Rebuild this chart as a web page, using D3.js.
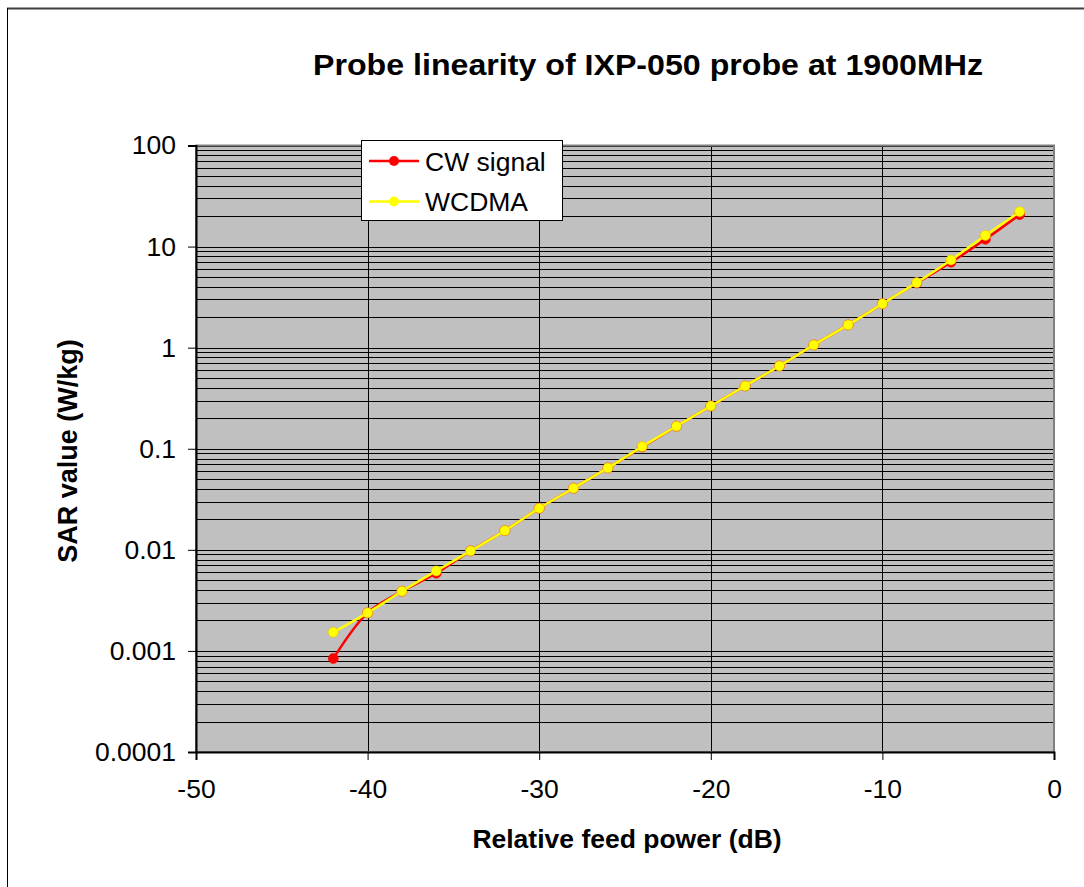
<!DOCTYPE html>
<html><head><meta charset="utf-8">
<script src="https://cdn.jsdelivr.net/npm/d3@7"></script>
<style>body{margin:0;background:#fff}svg{display:block;font-family:"Liberation Sans",Arial,sans-serif}</style>
</head><body>
<svg id="c" width="1084" height="887"></svg>
<script>
const feedPower = [-42,-40,-38,-36,-34,-32,-30,-28,-26,-24,-22,-20,-18,-16,-14,-12,-10,-8,-6,-4,-2];
const cwSignal = [0.00084,0.00238,0.00389,0.00587,0.00975,0.0155,0.0258,0.0407,0.0646,0.104,0.167,0.265,0.418,0.659,1.064,1.68,2.72,4.36,7.0,11.8,20.7];
const wcdma    = [0.00153,0.00238,0.00389,0.00618,0.00975,0.0155,0.0258,0.0407,0.0646,0.105,0.167,0.265,0.418,0.659,1.064,1.68,2.72,4.40,7.37,12.9,22.1];
const xTicks = [-50,-40,-30,-20,-10,0];
const yTicks = [100,10,1,0.1,0.01,0.001,0.0001];
const yTickLabels = ["100","10","1","0.1","0.01","0.001","0.0001"];
const seriesNames = ["CW signal","WCDMA"];
const seriesColors = ["#ff0000","#ffff00"];

const svg = d3.select("#c");
const L=196, R=1054, T=145.5, B=752;
const x = d3.scaleLinear().domain([-50,0]).range([L,R]);
const y = d3.scaleLog().domain([0.0001,100]).range([B,T]);

// outer chart border
svg.append("line").attr("x1",7).attr("x2",1084).attr("y1",8.5).attr("y2",8.5).attr("stroke","#404040").attr("stroke-width",2);
svg.append("line").attr("x1",7.5).attr("x2",7.5).attr("y1",8).attr("y2",887).attr("stroke","#000").attr("stroke-width",1);

// plot background
svg.append("rect").attr("x",L).attr("y",T).attr("width",R-L).attr("height",B-T).attr("fill","#c0c0c0");

// horizontal grid (major + minor)
const hGrid=[];
for(let e=-4;e<2;e++){ for(let m=1;m<10;m++){ const v=m*Math.pow(10,e); if(v>0.0001) hGrid.push(v);} }
hGrid.push(100);
svg.append("g").selectAll("line").data(hGrid).join("line")
  .attr("x1",L).attr("x2",R)
  .attr("y1",d=>Math.round(y(d))+0.5).attr("y2",d=>Math.round(y(d))+0.5)
  .attr("stroke","#000").attr("stroke-width",1);
// vertical grid
svg.append("g").selectAll("line").data(xTicks.slice(1,-1)).join("line")
  .attr("y1",T).attr("y2",B)
  .attr("x1",d=>Math.round(x(d))+0.5).attr("x2",d=>Math.round(x(d))+0.5)
  .attr("stroke","#000").attr("stroke-width",1);

// plot border
svg.append("rect").attr("x",L).attr("y",T).attr("width",R-L).attr("height",B-T)
  .attr("fill","none").attr("stroke","#808080").attr("stroke-width",2);

// axes
const yAxis = d3.axisLeft(y).tickValues(yTicks).tickFormat((d,i)=>yTickLabels[i]).tickSize(8).tickPadding(12);
const gy = svg.append("g").attr("transform",`translate(${L},0)`).call(yAxis);
const xAxis = d3.axisBottom(x).tickValues(xTicks).tickFormat(d3.format("d")).tickSize(8).tickPadding(19);
const gx = svg.append("g").attr("transform",`translate(0,${B})`).call(xAxis);
[gy,gx].forEach(g=>{
  g.select(".domain").attr("stroke","#000").attr("stroke-width",2);
  g.selectAll(".tick line").attr("stroke","#000").attr("stroke-width",1);
  g.selectAll(".tick text").attr("font-size",26.5).attr("fill","#000").attr("font-family","Liberation Sans, Arial, sans-serif");
});
gx.selectAll(".tick text").text(d=>String(d));

// series
const line = d3.line().x(d=>x(d[0])).y(d=>y(d[1])).curve(d3.curveCatmullRom.alpha(0.5));
const seriesData=[cwSignal,wcdma];
seriesData.forEach((vals,i)=>{
  const pts=feedPower.map((p,j)=>[p,vals[j]]);
  svg.append("path").datum(pts).attr("d",line).attr("fill","none")
    .attr("stroke",seriesColors[i]).attr("stroke-width",2.5);
  svg.append("g").selectAll("circle").data(pts).join("circle")
    .attr("cx",d=>x(d[0])).attr("cy",d=>y(d[1])).attr("r",5)
    .attr("fill",seriesColors[i]).attr("stroke",i===1?"#f0c000":"#ff0000").attr("stroke-width",0.6);
});

// legend
const lg = svg.append("g");
lg.append("rect").attr("x",361.5).attr("y",140.5).attr("width",201).attr("height",80)
  .attr("fill","#fff").attr("stroke","#000").attr("stroke-width",1);
seriesNames.forEach((n,i)=>{
  const cy=161+i*40.5;
  lg.append("line").attr("x1",369).attr("x2",419).attr("y1",cy).attr("y2",cy).attr("stroke",seriesColors[i]).attr("stroke-width",2.5);
  lg.append("circle").attr("cx",394).attr("cy",cy).attr("r",5).attr("fill",seriesColors[i]);
  lg.append("text").attr("x",425).attr("y",cy+9.5).attr("font-size",26.5).attr("fill","#000").text(n);
});

// title & labels
svg.append("text").attr("x",648).attr("y",75).attr("text-anchor","middle")
  .attr("font-size",30).attr("font-weight","bold")
  .attr("textLength",670).attr("lengthAdjust","spacingAndGlyphs")
  .text("Probe linearity of IXP-050 probe at 1900MHz");
svg.append("text").attr("x",627).attr("y",848).attr("text-anchor","middle")
  .attr("font-size",26.5).attr("font-weight","bold").text("Relative feed power (dB)");
svg.append("text").attr("transform","translate(77,451) rotate(-90)").attr("text-anchor","middle")
  .attr("font-size",27).attr("font-weight","bold").text("SAR value (W/kg)");
</script>
</body></html>
